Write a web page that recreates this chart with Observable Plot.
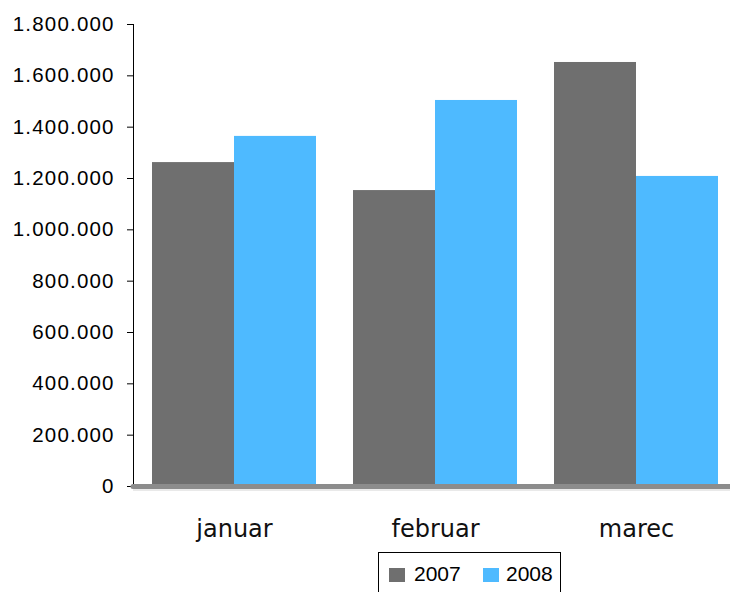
<!DOCTYPE html>
<html>
<head>
<meta charset="utf-8">
<script src="https://cdn.jsdelivr.net/npm/d3@7"></script>
<script src="https://cdn.jsdelivr.net/npm/@observablehq/plot@0.6"></script>
<style>
  html, body { margin: 0; padding: 0; background: #fff; overflow: hidden; }
  #wrap { position: relative; width: 730px; height: 592px; }
  #legend { position: absolute; left: 378px; top: 552px; width: 183px; height: 60px; box-sizing: border-box; border: 1px solid #000; font-family: "Liberation Sans", Arial, sans-serif; font-size: 21px; color: #000; }
  .sw { position: absolute; top: 15px; width: 16px; height: 14px; }
  .lt { position: absolute; top: 9px; line-height: 24px; }
  .ytl text { font-family: "Liberation Sans", Arial, sans-serif !important; letter-spacing: 1.2px; }
  .xtl text { font-family: "DejaVu Sans", Verdana, sans-serif !important; }
</style>
</head>
<body>
<div id="wrap">
  <div id="chart"></div>
  <div id="legend">
    <div class="sw" style="left:10px;background:#6f6f6f"></div>
    <div class="lt" style="left:35px">2007</div>
    <div class="sw" style="left:104px;background:#4ebaff"></div>
    <div class="lt" style="left:127px">2008</div>
  </div>
</div>
<script>
const months = ["januar", "februar", "marec"];
const values2007 = [1262000, 1153000, 1652000];
const values2008 = [1364000, 1504000, 1208000];
const yTicks = [0, 200000, 400000, 600000, 800000, 1000000, 1200000, 1400000, 1600000, 1800000];

const data = [];
months.forEach((m, i) => {
  data.push({month: m, year: "2007", value: values2007[i]});
  data.push({month: m, year: "2008", value: values2008[i]});
});

const loc = d3.formatLocale({decimal: ",", thousands: ".", grouping: [3], currency: ["", ""]});
const fmt = loc.format(",");

const chart = Plot.plot({
  width: 730,
  height: 552,
  marginTop: 24,
  marginBottom: 66,
  marginLeft: 133,
  marginRight: 0,
  style: {background: "#fff", color: "#000", fontFamily: "Liberation Sans, Arial, sans-serif"},
  x: {domain: months, range: [133, 737.5], paddingInner: 0.186, paddingOuter: 0.093, axis: null},
  y: {domain: [0, 1800000], axis: null},
  marks: [
    Plot.barY(data.filter(d => d.year === "2007"), {x: "month", y: "value", fill: "#6f6f6f", insetRight: 82}),
    Plot.barY(data.filter(d => d.year === "2008"), {x: "month", y: "value", fill: "#4ebaff", insetLeft: 82}),
    Plot.frame({anchor: "left", stroke: "#000", strokeWidth: 1}),
    Plot.axisY({ticks: yTicks, tickFormat: fmt, tickSize: 6, tickPadding: 12.8, fontSize: 20.5, label: null, fill: "#000", stroke: "#000", className: "ytl"}),
    Plot.ruleY([0], {stroke: "#d4d4d4", strokeWidth: 1, dy: 3.5}),
    Plot.ruleY([0], {stroke: "#8c8c8c", strokeWidth: 5, strokeLinecap: "round"}),
    Plot.axisX({tickSize: 0, tickPadding: 33, fontSize: 24, label: null, fill: "#111", className: "xtl"})
  ]
});
chart.querySelectorAll("text").forEach(t => {
  const g = t.closest("g");
  if (g && g.getAttribute("aria-label") === "y-axis tick label") {
    t.setAttribute("font-family", "Liberation Sans, Arial, sans-serif");
    t.setAttribute("letter-spacing", "1.2");
  }
  if (g && g.getAttribute("aria-label") === "x-axis tick label") {
    t.setAttribute("font-family", "DejaVu Sans, Verdana, sans-serif");
  }
});
document.getElementById("chart").appendChild(chart);
</script>
</body>
</html>
